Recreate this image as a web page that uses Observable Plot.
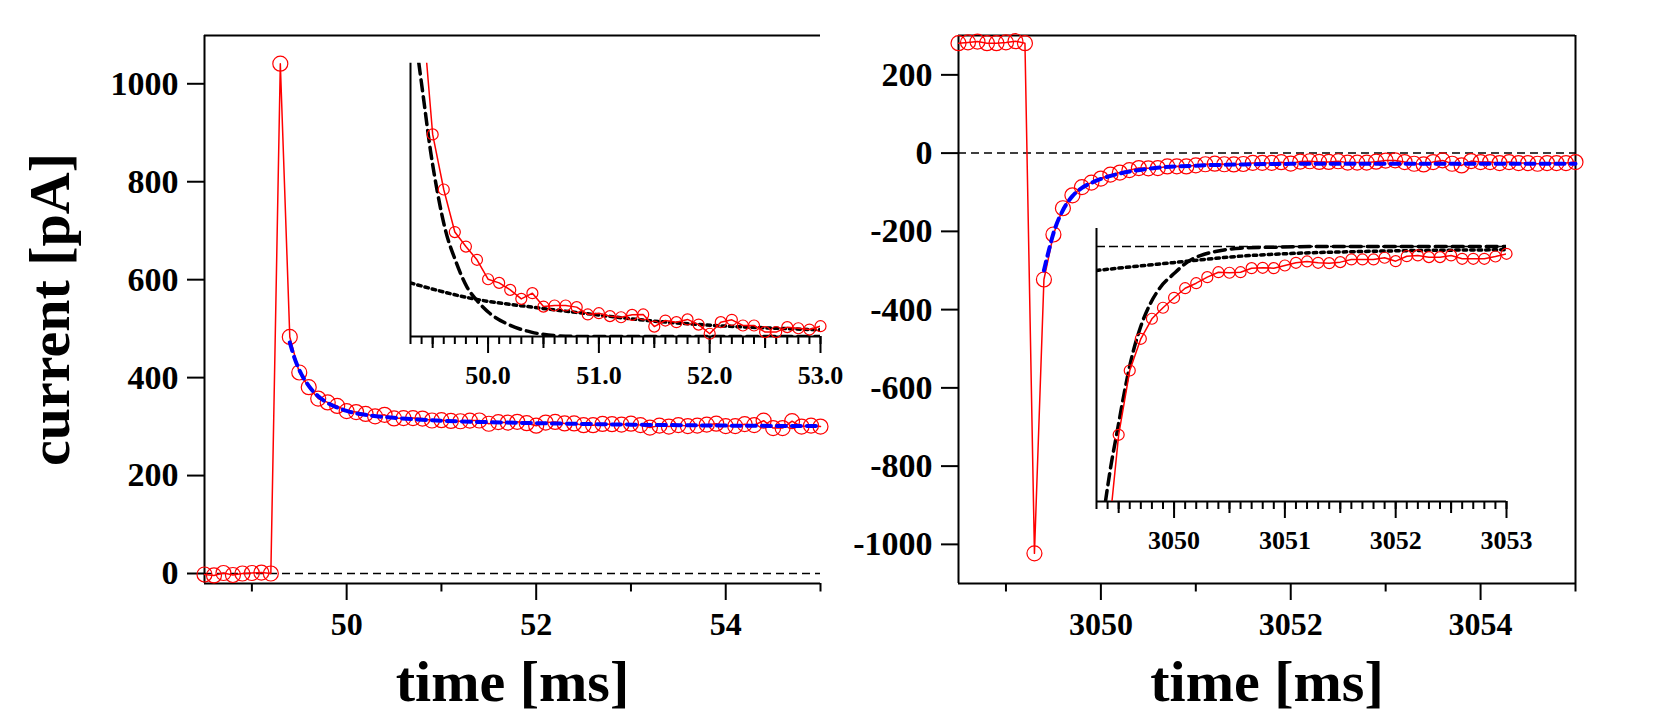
<!DOCTYPE html>
<html>
<head>
<meta charset="utf-8">
<script src="https://cdn.jsdelivr.net/npm/d3@7"></script>
<script src="https://cdn.jsdelivr.net/npm/@observablehq/plot@0.6"></script>
<style>
html, body { margin: 0; padding: 0; background: #fff; }
#chart { position: relative; width: 1654px; height: 719px; overflow: hidden; background: #fff; }
#chart svg { position: absolute; left: 0; top: 0; }
</style>
</head>
<body>
<div id="chart"></div>
<script>
// ---------- data ----------
const leftTime = [48.5,48.6,48.7,48.8,48.9,49.0,49.1,49.2,49.3,49.4,
  49.5,49.6,49.7,49.8,49.9,50.0,50.1,50.2,50.3,50.4,
  50.5,50.6,50.7,50.8,50.9,51.0,51.1,51.2,51.3,51.4,
  51.5,51.6,51.7,51.8,51.9,52.0,52.1,52.2,52.3,52.4,
  52.5,52.6,52.7,52.8,52.9,53.0,53.1,53.2,53.3,53.4,
  53.5,53.6,53.7,53.8,53.9,54.0,54.1,54.2,54.3,54.4,
  54.5,54.6,54.7,54.8,54.9,55.0];
const leftCurrent = [-2,-4,1,-3,0,1,2,0,1041,483,
  410.5,380.5,357.3,349.4,342.2,331.6,329.6,325.8,320.9,324.0,
  316.7,317.3,317.3,316.4,312.4,313.1,311.5,310.9,312.2,312.4,
  305.8,309.1,308.2,309.7,306.9,301.9,308.2,309.5,306.4,306.4,
  302.8,302.8,305.5,304.9,304.2,306.0,303,298,302,300,
  303,301,302,304,306,301,301,305,303,312,
  297,297,311,300,302,300];

const rightTime = [3048.5,3048.6,3048.7,3048.8,3048.9,3049.0,3049.1,3049.2,3049.3,3049.4,
  3049.5,3049.6,3049.7,3049.8,3049.9,3050.0,3050.1,3050.2,3050.3,3050.4,
  3050.5,3050.6,3050.7,3050.8,3050.9,3051.0,3051.1,3051.2,3051.3,3051.4,
  3051.5,3051.6,3051.7,3051.8,3051.9,3052.0,3052.1,3052.2,3052.3,3052.4,
  3052.5,3052.6,3052.7,3052.8,3052.9,3053.0,3053.1,3053.2,3053.3,3053.4,
  3053.5,3053.6,3053.7,3053.8,3053.9,3054.0,3054.1,3054.2,3054.3,3054.4,
  3054.5,3054.6,3054.7,3054.8,3054.9,3055.0];
const rightCurrent = [281,283,285,281,281,283,286,281,-1023,-323,
  -208.0,-140.9,-107.8,-86.9,-75.4,-65.0,-55.0,-49.8,-43.5,-38.3,
  -38.9,-38.3,-34.1,-33.7,-34.1,-31.3,-28.5,-27.1,-28.5,-28.9,
  -27.8,-25.0,-25.0,-25.0,-23.2,-26.8,-21.6,-20.8,-22.6,-22.6,
  -20.8,-24.3,-24.3,-24.3,-21.9,-19.1,-18.6,-22.9,-27.2,-28.9,
  -22.9,-18.6,-27.2,-31.4,-20.4,-22.9,-22.9,-25.5,-22.9,-25.5,
  -25.5,-27.2,-25.5,-25.5,-25.5,-22.9];

// fitted curves (blue dashed, main panels)
const leftFitTime = [49.4,49.45,49.5,49.6,49.7,49.8,49.9,50.0,50.2,50.5,51.0,51.5,52.0,53.0,54.0,55.0];
const leftFitCurrent = [472,440,416,383,362,348,339,332,324,318,312,309,307,304,302,301];
const rightFitTime = [3049.4,3049.45,3049.5,3049.6,3049.7,3049.8,3049.9,3050.0,3050.2,3050.5,3051.0,3051.5,3052.0,3053.0,3054.0,3055.0];
const rightFitCurrent = [-300,-250,-205,-146,-110,-89,-76,-66,-52,-40,-32,-29,-27.5,-27,-27,-27];

// inset components: fast (dashed) and slow (dotted)
const leftFastTime = [49.375,49.42,49.48,49.54,49.616,49.706,49.81,49.90,50.02,50.17,50.39,50.6,50.84,53.0];
const leftFastCurrent = [449.4,429,401.8,380,358.2,341.8,327.3,320,312.8,307.3,302.8,300.9,300.4,300.4];
const leftSlowTime = [49.3,49.87,50.4,50.9,51.44,52.04,52.73,53.0];
const leftSlowCurrent = [329.6,320.9,316.4,312.8,309.1,306.4,304.6,304.0];

const rightFastTime = [3049.381,3049.426,3049.486,3049.546,3049.606,3049.696,3049.786,3049.877,3049.997,3050.117,3050.237,3050.387,3050.597,3050.9,3051.348,3053.0];
const rightFastCurrent = [-277.6,-243,-205,-167,-133,-96,-71,-54,-40,-28,-21,-16.4,-13.2,-12.2,-11.5,-11.5];
const rightSlowTime = [3049.3,3049.546,3049.847,3050.147,3050.447,3050.748,3051.048,3051.65,3052.25,3053.0];
const rightSlowCurrent = [-36.5,-33.5,-30,-26.5,-23,-20.5,-18.8,-16.8,-15.6,-14.9];
const rightInsetRef = [-11.5];

// ticks
const leftYTicks = [0,200,400,600,800,1000];
const leftXMajor = [50,52,54];
const leftXMinor = [49,51,53,55];
const rightYTicks = [-1000,-800,-600,-400,-200,0,200];
const rightXMajor = [3050,3052,3054];
const rightXMinor = [3049,3051,3053,3055];
const insetLeftMajor = [50,51,52,53];
const insetLeftMid = [49.5,50.5,51.5,52.5];
const insetRightMajor = [3050,3051,3052,3053];
const insetRightMid = [3049.5,3050.5,3051.5,3052.5];
const insetLeftMinor = d3.range(493, 531).map(k => k / 10);
const insetRightMinor = d3.range(30493, 30531).map(k => k / 10);

const xLabel = "time [ms]";
const yLabel = "current [pA]";

// ---------- tables ----------
const zip = (T, I) => T.map((t, k) => ({t, i: I[k]}));
const leftData = zip(leftTime, leftCurrent);
const rightData = zip(rightTime, rightCurrent);
const leftFit = zip(leftFitTime, leftFitCurrent);
const rightFit = zip(rightFitTime, rightFitCurrent);
const leftFast = zip(leftFastTime, leftFastCurrent);
const leftSlow = zip(leftSlowTime, leftSlowCurrent);
const rightFast = zip(rightFastTime, rightFastCurrent);
const rightSlow = zip(rightSlowTime, rightSlowCurrent);

// ---------- layout ----------
const W = 1654, H = 719;
const FONT = "'Liberation Serif', 'Times New Roman', Times, serif";
const style = {fontFamily: FONT, fontWeight: "bold", color: "black", background: "transparent", overflow: "visible"};
const chart = document.getElementById("chart");

const LX = [48.5, 55], LY = [-20.4, 1098.6];
const RX = [3048.5, 3055], RY = [-1100, 300.6];
const ILX = [49.3, 53.0], ILY = [300.4, 449.3];
const IRX = [3049.3, 3053.0], IRY = [-277.6, 7.3];

function mainMarks(data, fit, X, Y, yTicks, xMajor, xMinor, withYLabel, rightBorder) {
  return [
    Plot.ruleY([0], {stroke: "black", strokeWidth: 1.5, strokeDasharray: "8,5"}),
    Plot.ruleX([X[0]], {stroke: "black", strokeWidth: 2}),
    Plot.ruleY([Y[0]], {stroke: "black", strokeWidth: 2}),
    Plot.ruleY([Y[1]], {stroke: "black", strokeWidth: 2}),
    rightBorder ? Plot.ruleX([X[1]], {stroke: "black", strokeWidth: 2}) : null,
    Plot.axisY({ticks: yTicks, tickSize: 17, tickPadding: 9, fontSize: 34, strokeWidth: 2, tickFormat: d => String(d), label: null}),
    Plot.axisX({ticks: xMajor, tickSize: 17, tickPadding: 12, fontSize: 32, strokeWidth: 2, tickFormat: d => String(d), label: null}),
    Plot.axisX({ticks: xMinor, tickSize: 8.5, fill: "none", strokeWidth: 2, label: null}),
    Plot.line(data, {x: "t", y: "i", stroke: "red", strokeWidth: 1.5}),
    Plot.dot(data, {x: "t", y: "i", r: 7.5, stroke: "red", strokeWidth: 1.2, fill: "none"}),
    Plot.line(fit, {x: "t", y: "i", stroke: "blue", strokeWidth: 4, strokeDasharray: "9,6", curve: "monotone-x"}),
    Plot.text([xLabel], {text: d => d, frameAnchor: "bottom", dy: 117, lineAnchor: "bottom", textAnchor: "middle", fontSize: 58}),
    withYLabel ? Plot.text([yLabel], {text: d => d, frameAnchor: "left", dx: -136, rotate: -90, lineAnchor: "bottom", textAnchor: "middle", fontSize: 58}) : null
  ];
}

const leftMain = Plot.plot({
  width: W, height: H, marginLeft: 204, marginRight: W - 820, marginTop: 35, marginBottom: H - 583,
  x: {domain: LX}, y: {domain: LY}, style,
  marks: mainMarks(leftData, leftFit, LX, LY, leftYTicks, leftXMajor, leftXMinor, true, false)
});

const rightMain = Plot.plot({
  width: W, height: H, marginLeft: 958, marginRight: W - 1575, marginTop: 35, marginBottom: H - 583,
  x: {domain: RX}, y: {domain: RY}, style,
  marks: mainMarks(rightData, rightFit, RX, RY, rightYTicks, rightXMajor, rightXMinor, false, true)
});

function insetMarks(data, fast, slow, X, Y, major, mid, minor, fmt, ref) {
  return [
    ref ? Plot.ruleY(ref, {stroke: "black", strokeWidth: 1.7, strokeDasharray: "9,4"}) : null,
    Plot.ruleX([X[0]], {stroke: "black", strokeWidth: 2}),
    Plot.ruleY([Y[0]], {stroke: "black", strokeWidth: 2}),
    Plot.axisX({ticks: minor, tickSize: 8, fill: "none", strokeWidth: 2, label: null}),
    Plot.axisX({ticks: mid, tickSize: 12, fill: "none", strokeWidth: 2, label: null}),
    Plot.axisX({ticks: major, tickSize: 17, tickPadding: 12, fontSize: 26, strokeWidth: 2, tickFormat: fmt, label: null}),
    Plot.line(fast, {x: "t", y: "i", stroke: "black", strokeWidth: 3.5, strokeDasharray: "11,6", curve: "monotone-x", clip: true}),
    Plot.line(slow, {x: "t", y: "i", stroke: "black", strokeWidth: 3.5, strokeDasharray: "3.5,4", curve: "monotone-x", clip: true}),
    Plot.line(data, {x: "t", y: "i", stroke: "red", strokeWidth: 1.5, clip: true}),
    Plot.dot(data, {x: "t", y: "i", r: 5.5, stroke: "red", strokeWidth: 1.2, fill: "none",
      filter: d => d.t >= X[0] + 0.15 && d.t <= X[1] + 0.01})
  ];
}

const leftInset = Plot.plot({
  width: W, height: H, marginLeft: 410, marginRight: W - 820, marginTop: 62.7, marginBottom: H - 336,
  x: {domain: ILX}, y: {domain: ILY, axis: null}, style,
  marks: insetMarks(leftData, leftFast, leftSlow, ILX, ILY, insetLeftMajor, insetLeftMid, insetLeftMinor, d => d.toFixed(1), null)
});

const rightInset = Plot.plot({
  width: W, height: H, marginLeft: 1096, marginRight: W - 1506, marginTop: 228, marginBottom: H - 501,
  x: {domain: IRX}, y: {domain: IRY, axis: null}, style,
  marks: insetMarks(rightData, rightFast, rightSlow, IRX, IRY, insetRightMajor, insetRightMid, insetRightMinor, d => String(d), rightInsetRef)
});

chart.append(leftMain, rightMain, leftInset, rightInset);
</script>
</body>
</html>
